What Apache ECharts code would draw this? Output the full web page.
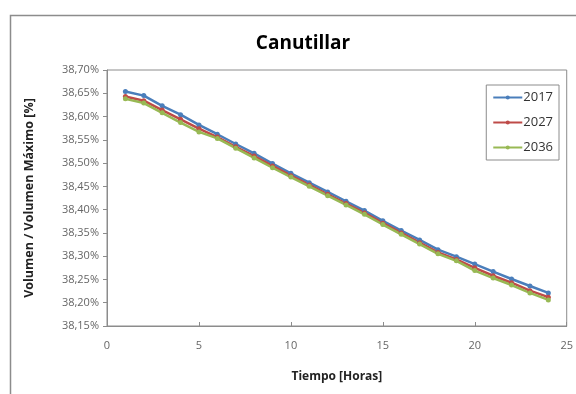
<!DOCTYPE html>
<html>
<head>
  <title>Canutillar</title>
  <script src="https://cdn.jsdelivr.net/npm/echarts@6/dist/echarts.min.js"></script>
  <style>body{margin:0;background:#fff}</style>
</head>
<body>
  <div id="main" style="width: 576px; height: 394px;"></div>

  <script>
    const horas = [1,2,3,4,5,6,7,8,9,10,11,12,13,14,15,16,17,18,19,20,21,22,23,24];
    const v2017 = [38.654,38.645,38.623,38.604,38.582,38.562,38.541,38.521,38.499,38.478,38.458,38.438,
                   38.418,38.398,38.376,38.355,38.335,38.314,38.299,38.283,38.267,38.251,38.236,38.221];
    const v2027 = [38.643,38.634,38.614,38.594,38.574,38.556,38.535,38.515,38.494,38.473,38.453,38.433,
                   38.413,38.393,38.371,38.350,38.329,38.308,38.293,38.275,38.258,38.243,38.226,38.212];
    const v2036 = [38.638,38.629,38.608,38.587,38.567,38.553,38.532,38.511,38.490,38.470,38.450,38.430,
                   38.410,38.390,38.368,38.347,38.326,38.305,38.290,38.269,38.253,38.238,38.221,38.206];

    const pairs = arr => arr.map((v, i) => [horas[i], v]);
    const mkSeries = (name, color, data) => ({
      name: name,
      type: 'line',
      data: pairs(data),
      symbol: 'circle',
      symbolSize: 5,
      lineStyle: { width: 2.5, color: color },
      itemStyle: { color: color },
      emphasis: { disabled: true }
    });

    const chart = echarts.init(document.getElementById('main'));
    chart.setOption({
      animation: false,
      title: {
        text: 'Canutillar', left: 298, top: 29, textAlign: 'center',
        textStyle: { fontFamily: 'Open Sans', fontSize: 19, fontWeight: 'bold', color: '#000' }
      },
      graphic: [{
        type: 'rect', left: 8, top: 13,
        shape: { width: 580, height: 400 },
        style: { fill: 'none', stroke: '#8c8c8c', lineWidth: 1.5 }
      }],
      legend: {
        orient: 'vertical', right: 17, top: 85,
        padding: [6, 6, 6, 6], itemGap: 12,
        borderColor: '#8c8c8c', borderWidth: 1,
        itemWidth: 29, itemHeight: 5,
        textStyle: { fontFamily: 'Liberation Sans Narrow, Open Sans', fontSize: 13, color: '#333', padding: [0, 0, 0, -4] },
        data: ['2017', '2027', '2036']
      },
      grid: { left: 107, right: 9, top: 70, bottom: 68, show: true, borderColor: '#8c8c8c', borderWidth: 1 },
      xAxis: {
        type: 'value', min: 0, max: 25, interval: 5,
        name: 'Tiempo [Horas]', nameLocation: 'middle', nameGap: 45,
        nameTextStyle: { fontFamily: 'Open Sans', fontWeight: 'bold', fontSize: 12, color: '#222' },
        axisLine: { lineStyle: { color: '#8c8c8c' } },
        axisTick: { inside: true, length: 4, lineStyle: { color: '#8c8c8c' } },
        axisLabel: { margin: 14, fontFamily: 'Open Sans', fontSize: 11, color: '#666' },
        splitLine: { show: false }
      },
      yAxis: {
        type: 'value', min: 38.15, max: 38.70, interval: 0.05,
        name: 'Volumen / Volumen Máximo [%]', nameLocation: 'middle', nameGap: 71,
        nameTextStyle: { fontFamily: 'Open Sans', fontWeight: 'bold', fontSize: 12.5, color: '#222' },
        axisLine: { show: true, lineStyle: { color: '#8c8c8c' } },
        axisTick: { show: true, length: 4, lineStyle: { color: '#8c8c8c' } },
        axisLabel: {
          margin: 8, fontFamily: 'Open Sans', fontSize: 11, color: '#666',
          formatter: v => v.toFixed(2).replace('.', ',') + '%'
        },
        splitLine: { show: false }
      },
      series: [
        mkSeries('2017', '#4a7ebb', v2017),
        mkSeries('2027', '#be4b48', v2027),
        mkSeries('2036', '#98b954', v2036)
      ]
    });
  </script>
</body>
</html>
